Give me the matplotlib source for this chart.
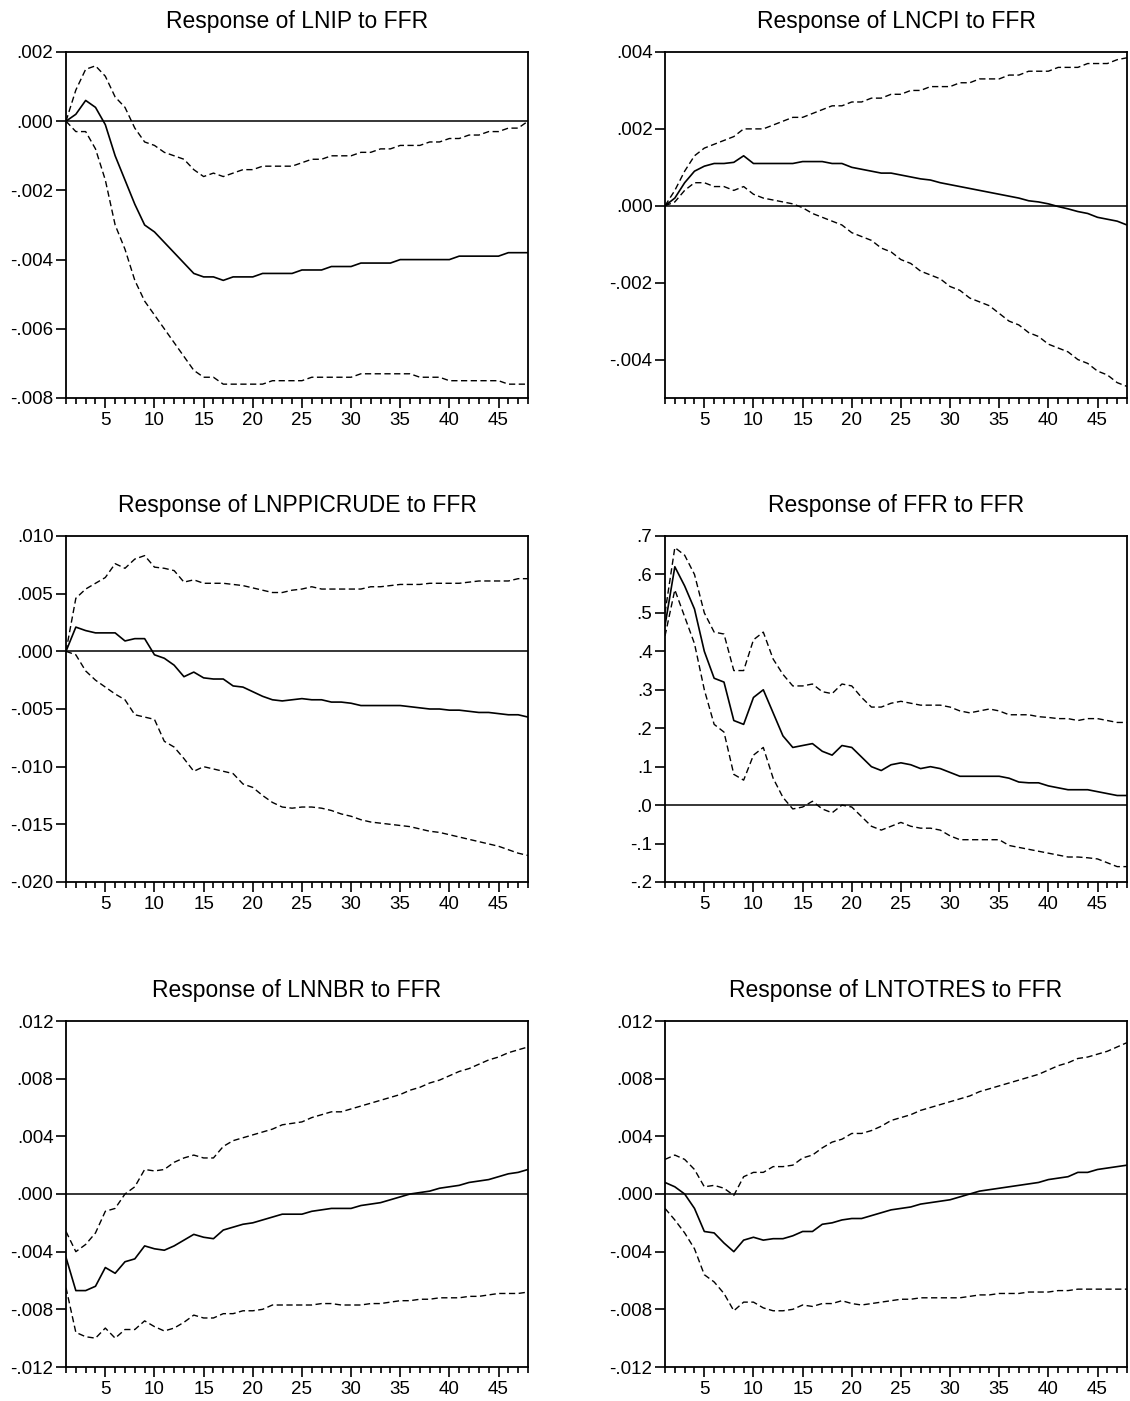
import numpy as np
import matplotlib.pyplot as plt
from matplotlib.ticker import FixedLocator, MultipleLocator, FuncFormatter

plt.rcParams['font.family'] = ['Liberation Sans', 'DejaVu Sans']

# horizon 1..48
steps = np.arange(1, 49)

# Response of LNIP to FFR
lnip_resp = [0, 0.0002, 0.0006, 0.0004, -0.0001, -0.0010, -0.0017, -0.0024, -0.0030, -0.0032,
             -0.0035, -0.0038, -0.0041, -0.0044, -0.0045, -0.0045, -0.0046, -0.0045, -0.0045, -0.0045,
             -0.0044, -0.0044, -0.0044, -0.0044, -0.0043, -0.0043, -0.0043, -0.0042, -0.0042, -0.0042,
             -0.0041, -0.0041, -0.0041, -0.0041, -0.0040, -0.0040, -0.0040, -0.0040, -0.0040, -0.0040,
             -0.0039, -0.0039, -0.0039, -0.0039, -0.0039, -0.0038, -0.0038, -0.0038]
lnip_hi = [0, 0.0009, 0.0015, 0.0016, 0.0013, 0.0007, 0.0004, -0.0002, -0.0006, -0.0007,
           -0.0009, -0.0010, -0.0011, -0.0014, -0.0016, -0.0015, -0.0016, -0.0015, -0.0014, -0.0014,
           -0.0013, -0.0013, -0.0013, -0.0013, -0.0012, -0.0011, -0.0011, -0.0010, -0.0010, -0.0010,
           -0.0009, -0.0009, -0.0008, -0.0008, -0.0007, -0.0007, -0.0007, -0.0006, -0.0006, -0.0005,
           -0.0005, -0.0004, -0.0004, -0.0003, -0.0003, -0.0002, -0.0002, 0.0000]
lnip_lo = [0, -0.0003, -0.0003, -0.0008, -0.0017, -0.0030, -0.0037, -0.0046, -0.0052, -0.0056,
           -0.0060, -0.0064, -0.0068, -0.0072, -0.0074, -0.0074, -0.0076, -0.0076, -0.0076, -0.0076,
           -0.0076, -0.0075, -0.0075, -0.0075, -0.0075, -0.0074, -0.0074, -0.0074, -0.0074, -0.0074,
           -0.0073, -0.0073, -0.0073, -0.0073, -0.0073, -0.0073, -0.0074, -0.0074, -0.0074, -0.0075,
           -0.0075, -0.0075, -0.0075, -0.0075, -0.0075, -0.0076, -0.0076, -0.0076]

# Response of LNCPI to FFR
lncpi_resp = [0, 0.0002, 0.0006, 0.0009, 0.00103, 0.0011, 0.0011, 0.00113, 0.0013, 0.0011,
              0.0011, 0.0011, 0.0011, 0.0011, 0.00115, 0.00115, 0.00115, 0.0011, 0.0011, 0.0010,
              0.00095, 0.0009, 0.00085, 0.00085, 0.0008, 0.00075, 0.0007, 0.00067, 0.0006, 0.00055,
              0.0005, 0.00045, 0.0004, 0.00035, 0.0003, 0.00025, 0.0002, 0.00013, 0.0001, 0.00005,
              -0.00002, -0.00008, -0.00015, -0.0002, -0.0003, -0.00035, -0.0004, -0.0005]
lncpi_hi = [0, 0.0004, 0.0009, 0.0013, 0.0015, 0.0016, 0.0017, 0.0018, 0.0020, 0.0020,
            0.0020, 0.0021, 0.0022, 0.0023, 0.0023, 0.0024, 0.0025, 0.0026, 0.0026, 0.0027,
            0.0027, 0.0028, 0.0028, 0.0029, 0.0029, 0.0030, 0.0030, 0.0031, 0.0031, 0.0031,
            0.0032, 0.0032, 0.0033, 0.0033, 0.0033, 0.0034, 0.0034, 0.0035, 0.0035, 0.0035,
            0.0036, 0.0036, 0.0036, 0.0037, 0.0037, 0.0037, 0.0038, 0.00385]
lncpi_lo = [0, 0.0001, 0.0004, 0.0006, 0.0006, 0.0005, 0.0005, 0.0004, 0.0005, 0.0003,
            0.0002, 0.00015, 0.0001, 0.00005, -0.00005, -0.0002, -0.0003, -0.0004, -0.0005, -0.0007,
            -0.0008, -0.0009, -0.0011, -0.0012, -0.0014, -0.0015, -0.0017, -0.0018, -0.0019, -0.0021,
            -0.0022, -0.0024, -0.0025, -0.0026, -0.0028, -0.0030, -0.0031, -0.0033, -0.0034, -0.0036,
            -0.0037, -0.0038, -0.0040, -0.0041, -0.0043, -0.0044, -0.0046, -0.0047]

# Response of LNPPICRUDE to FFR
lnppi_resp = [0, 0.0021, 0.0018, 0.0016, 0.0016, 0.0016, 0.0009, 0.0011, 0.0011, -0.0003,
              -0.0006, -0.0012, -0.0022, -0.0018, -0.0023, -0.0024, -0.0024, -0.0030, -0.0031, -0.0035,
              -0.0039, -0.0042, -0.0043, -0.0042, -0.0041, -0.0042, -0.0042, -0.0044, -0.0044, -0.0045,
              -0.0047, -0.0047, -0.0047, -0.0047, -0.0047, -0.0048, -0.0049, -0.0050, -0.0050, -0.0051,
              -0.0051, -0.0052, -0.0053, -0.0053, -0.0054, -0.0055, -0.0055, -0.0057]
lnppi_hi = [0, 0.0046, 0.0054, 0.0059, 0.0064, 0.0076, 0.0072, 0.0080, 0.0083, 0.0073,
            0.0072, 0.0070, 0.0060, 0.0062, 0.0059, 0.0059, 0.0059, 0.0058, 0.0057, 0.0055,
            0.0053, 0.0051, 0.0051, 0.0053, 0.0054, 0.0056, 0.0054, 0.0054, 0.0054, 0.0054,
            0.0054, 0.0056, 0.0056, 0.0057, 0.0058, 0.0058, 0.0058, 0.0059, 0.0059, 0.0059,
            0.0059, 0.0060, 0.0061, 0.0061, 0.0061, 0.0061, 0.0063, 0.0063]
lnppi_lo = [0, -0.0003, -0.0017, -0.0025, -0.0031, -0.0037, -0.0042, -0.0055, -0.0057, -0.0059,
            -0.0078, -0.0083, -0.0093, -0.0104, -0.0100, -0.0102, -0.0104, -0.0106, -0.0115, -0.0118,
            -0.0125, -0.0131, -0.0135, -0.0136, -0.0135, -0.0135, -0.0136, -0.0138, -0.0141, -0.0143,
            -0.0146, -0.0148, -0.0149, -0.0150, -0.0151, -0.0152, -0.0154, -0.0156, -0.0157, -0.0159,
            -0.0161, -0.0163, -0.0165, -0.0167, -0.0169, -0.0172, -0.0175, -0.0177]

# Response of FFR to FFR
ffr_resp = [0.467, 0.62, 0.57, 0.51, 0.40, 0.33, 0.32, 0.22, 0.21, 0.28,
            0.30, 0.24, 0.18, 0.15, 0.155, 0.16, 0.14, 0.13, 0.155, 0.15,
            0.125, 0.10, 0.09, 0.105, 0.11, 0.105, 0.095, 0.10, 0.095, 0.085,
            0.075, 0.075, 0.075, 0.075, 0.075, 0.07, 0.06, 0.058, 0.058, 0.05,
            0.045, 0.04, 0.04, 0.04, 0.035, 0.03, 0.025, 0.025]
ffr_hi = [0.50, 0.67, 0.65, 0.60, 0.50, 0.45, 0.445, 0.35, 0.35, 0.43,
          0.45, 0.38, 0.34, 0.31, 0.31, 0.315, 0.295, 0.29, 0.315, 0.31,
          0.28, 0.255, 0.255, 0.265, 0.27, 0.265, 0.26, 0.26, 0.26, 0.255,
          0.245, 0.24, 0.245, 0.25, 0.245, 0.235, 0.235, 0.235, 0.23, 0.228,
          0.225, 0.225, 0.22, 0.225, 0.225, 0.22, 0.215, 0.215]
ffr_lo = [0.44, 0.56, 0.49, 0.42, 0.30, 0.21, 0.19, 0.08, 0.065, 0.13,
          0.15, 0.07, 0.02, -0.01, -0.005, 0.01, -0.01, -0.02, 0.0, -0.005,
          -0.03, -0.055, -0.065, -0.055, -0.045, -0.055, -0.06, -0.06, -0.065, -0.08,
          -0.09, -0.09, -0.09, -0.09, -0.09, -0.105, -0.11, -0.115, -0.12, -0.125,
          -0.13, -0.135, -0.135, -0.137, -0.14, -0.15, -0.16, -0.16]

# Response of LNNBR to FFR
lnnbr_resp = [-0.0044, -0.0067, -0.0067, -0.0064, -0.0051, -0.0055, -0.0047, -0.0045, -0.0036, -0.0038,
              -0.0039, -0.0036, -0.0032, -0.0028, -0.0030, -0.0031, -0.0025, -0.0023, -0.0021, -0.0020,
              -0.0018, -0.0016, -0.0014, -0.0014, -0.0014, -0.0012, -0.0011, -0.0010, -0.0010, -0.0010,
              -0.0008, -0.0007, -0.0006, -0.0004, -0.0002, 0.0000, 0.0001, 0.0002, 0.0004, 0.0005,
              0.0006, 0.0008, 0.0009, 0.0010, 0.0012, 0.0014, 0.0015, 0.0017]
lnnbr_hi = [-0.0026, -0.0040, -0.0035, -0.0027, -0.0012, -0.0010, 0.0000, 0.0005, 0.0017, 0.0016,
            0.0017, 0.0022, 0.0025, 0.0027, 0.0025, 0.0025, 0.0033, 0.0037, 0.0039, 0.0041,
            0.0043, 0.0045, 0.0048, 0.0049, 0.0050, 0.0053, 0.0055, 0.0057, 0.0057, 0.0059,
            0.0061, 0.0063, 0.0065, 0.0067, 0.0069, 0.0072, 0.0074, 0.0077, 0.0079, 0.0082,
            0.0085, 0.0087, 0.0090, 0.0093, 0.0095, 0.0098, 0.0100, 0.0102]
lnnbr_lo = [-0.0065, -0.0096, -0.0099, -0.0100, -0.0093, -0.0100, -0.0094, -0.0094, -0.0088, -0.0092,
            -0.0095, -0.0093, -0.0089, -0.0084, -0.0086, -0.0086, -0.0083, -0.0083, -0.0081, -0.0081,
            -0.0080, -0.0077, -0.0077, -0.0077, -0.0077, -0.0077, -0.0076, -0.0076, -0.0077, -0.0077,
            -0.0077, -0.0076, -0.0076, -0.0075, -0.0074, -0.0074, -0.0073, -0.0073, -0.0072, -0.0072,
            -0.0072, -0.0071, -0.0071, -0.0070, -0.0069, -0.0069, -0.0069, -0.0068]

# Response of LNTOTRES to FFR
lntot_resp = [0.0008, 0.0005, 0.0000, -0.0010, -0.0026, -0.0027, -0.0034, -0.0040, -0.0032, -0.0030,
              -0.0032, -0.0031, -0.0031, -0.0029, -0.0026, -0.0026, -0.0021, -0.0020, -0.0018, -0.0017,
              -0.0017, -0.0015, -0.0013, -0.0011, -0.0010, -0.0009, -0.0007, -0.0006, -0.0005, -0.0004,
              -0.0002, 0.0000, 0.0002, 0.0003, 0.0004, 0.0005, 0.0006, 0.0007, 0.0008, 0.0010,
              0.0011, 0.0012, 0.0015, 0.0015, 0.0017, 0.0018, 0.0019, 0.0020]
lntot_hi = [0.0024, 0.0027, 0.0024, 0.0017, 0.0005, 0.0006, 0.0004, -0.0001, 0.0012, 0.0015,
            0.0015, 0.0019, 0.0019, 0.0020, 0.0025, 0.0027, 0.0032, 0.0036, 0.0038, 0.0042,
            0.0042, 0.0044, 0.0047, 0.0051, 0.0053, 0.0055, 0.0058, 0.0060, 0.0062, 0.0064,
            0.0066, 0.0068, 0.0071, 0.0073, 0.0075, 0.0077, 0.0079, 0.0081, 0.0083, 0.0086,
            0.0089, 0.0091, 0.0094, 0.0095, 0.0097, 0.0099, 0.0102, 0.0105]
lntot_lo = [-0.0010, -0.0018, -0.0027, -0.0038, -0.0056, -0.0061, -0.0069, -0.0081, -0.0075, -0.0075,
            -0.0079, -0.0081, -0.0081, -0.0080, -0.0077, -0.0078, -0.0076, -0.0076, -0.0074, -0.0076,
            -0.0077, -0.0076, -0.0075, -0.0074, -0.0073, -0.0073, -0.0072, -0.0072, -0.0072, -0.0072,
            -0.0072, -0.0071, -0.0070, -0.0070, -0.0069, -0.0069, -0.0069, -0.0068, -0.0068, -0.0068,
            -0.0067, -0.0067, -0.0066, -0.0066, -0.0066, -0.0066, -0.0066, -0.0066]

# y tick values of each panel
lnip_ticks = [-0.008, -0.006, -0.004, -0.002, 0.000, 0.002]
lncpi_ticks = [-0.004, -0.002, 0.000, 0.002, 0.004]
lnppi_ticks = [-0.020, -0.015, -0.010, -0.005, 0.000, 0.005, 0.010]
ffr_ticks = [-0.2, -0.1, 0.0, 0.1, 0.2, 0.3, 0.4, 0.5, 0.6, 0.7]
lnnbr_ticks = [-0.012, -0.008, -0.004, 0.000, 0.004, 0.008, 0.012]
lntot_ticks = [-0.012, -0.008, -0.004, 0.000, 0.004, 0.008, 0.012]

panels = [
    ("Response of LNIP to FFR", lnip_resp, lnip_hi, lnip_lo, (-0.008, 0.002), lnip_ticks, 3),
    ("Response of LNCPI to FFR", lncpi_resp, lncpi_hi, lncpi_lo, (-0.005, 0.004), lncpi_ticks, 3),
    ("Response of LNPPICRUDE to FFR", lnppi_resp, lnppi_hi, lnppi_lo, (-0.020, 0.010), lnppi_ticks, 3),
    ("Response of FFR to FFR", ffr_resp, ffr_hi, ffr_lo, (-0.2, 0.7), ffr_ticks, 1),
    ("Response of LNNBR to FFR", lnnbr_resp, lnnbr_hi, lnnbr_lo, (-0.012, 0.012), lnnbr_ticks, 3),
    ("Response of LNTOTRES to FFR", lntot_resp, lntot_hi, lntot_lo, (-0.012, 0.012), lntot_ticks, 3),
]

# axes boxes in figure fractions (pixel measurements of the 1130x1401 original)
lefts = [66 / 1130, 665 / 1130]
bottoms = [1 - 398 / 1401, 1 - 882 / 1401, 1 - 1367 / 1401]
w, h = 462 / 1130, 346 / 1401


def eviews_fmt(d):
    def f(v, pos):
        v = round(v, d + 2)
        s = f"{abs(v):.{d}f}".lstrip("0")
        return ("-" if v < 0 else "") + s
    return f


fig = plt.figure(figsize=(11.3, 14.01), dpi=100)

for i, (title, resp, hi, lo, ylim, yticks, dec) in enumerate(panels):
    ax = fig.add_axes([lefts[i % 2], bottoms[i // 2], w, h])
    ax.plot(steps, resp, color='black', lw=1.2)
    ax.plot(steps, hi, color='black', lw=1.0, linestyle=(0, (4.5, 2.5)))
    ax.plot(steps, lo, color='black', lw=1.0, linestyle=(0, (4.5, 2.5)))
    ax.axhline(0, color='black', lw=1.1)

    ax.set_xlim(1, 48)
    ax.set_ylim(*ylim)
    ax.yaxis.set_major_locator(FixedLocator(yticks))
    ax.yaxis.set_major_formatter(FuncFormatter(eviews_fmt(dec)))
    ax.xaxis.set_major_locator(FixedLocator([5, 10, 15, 20, 25, 30, 35, 40, 45]))
    ax.xaxis.set_minor_locator(MultipleLocator(1))

    ax.tick_params(axis='y', direction='out', length=7, width=1.2, labelsize=13.5, pad=2)
    ax.tick_params(axis='x', which='major', direction='out', length=7, width=1.2, labelsize=13.5, pad=3)
    ax.tick_params(axis='x', which='minor', direction='out', length=4, width=1.2)
    for sp in ax.spines.values():
        sp.set_linewidth(1.3)
    ax.set_title(title, fontsize=16.5, pad=17)

fig.savefig('out.png', dpi=100)
